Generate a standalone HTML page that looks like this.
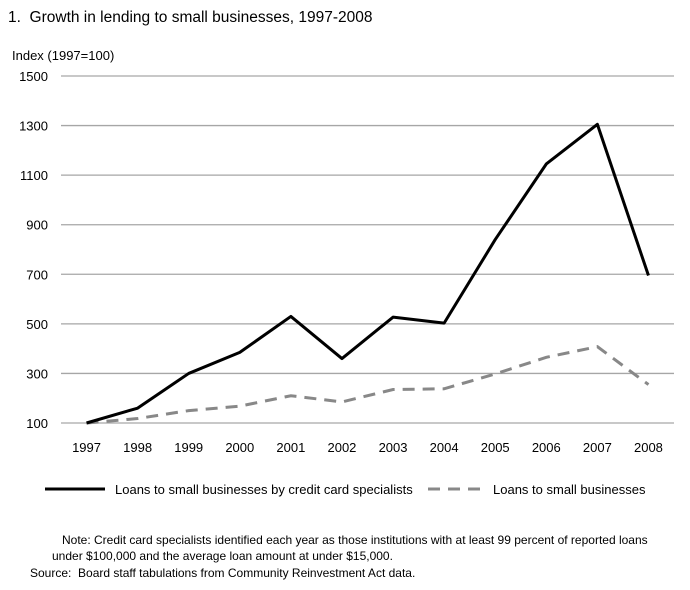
<!DOCTYPE html>
<html><head><meta charset="utf-8"><style>
body{margin:0;background:#fff;width:690px;height:585px;overflow:hidden;font-family:"Liberation Sans",sans-serif;}
</style></head><body>
<svg id="chart" width="690" height="585" font-family="Liberation Sans, sans-serif">
<text x="8" y="22" font-size="15.5" fill="#000">1.&#160;&#160;Growth in lending to small businesses, 1997-2008</text>
<text x="12" y="60" font-size="13" fill="#000">Index (1997=100)</text>
<g id="grid"></g><g id="xlabels"></g><g id="series"></g>
<g>
<line x1="45" y1="489" x2="105" y2="489" stroke="#000" stroke-width="3"/>
<text x="115" y="494" font-size="13">Loans to small businesses by credit card specialists</text>
<line x1="428" y1="489" x2="482" y2="489" stroke="#888" stroke-width="3" stroke-dasharray="12,8"/>
<text x="493" y="494" font-size="13">Loans to small businesses</text>
</g>
<g font-size="12">
<text x="62" y="544">Note: Credit card specialists identified each year as those institutions with at least 99 percent of  reported loans</text>
<text x="52" y="560">under $100,000 and the average loan amount at under $15,000.</text>
<text x="30" y="577">Source:&#160;&#160;Board staff tabulations from Community Reinvestment Act data.</text>
</g>
</svg>
<script>
const years=["1997","1998","1999","2000","2001","2002","2003","2004","2005","2006","2007","2008"];
const creditCard=[100,160,300,385,530,360,527,503,840,1145,1305,695];
const smallBiz=[100,118,150,168,210,185,235,238,298,365,408,255];
const yTicks=[100,300,500,700,900,1100,1300,1500];
const ns="http://www.w3.org/2000/svg";
const L=61,R=674,T=76,B=423;
const x=i=>L+(R-L)/years.length*(i+0.5);
const y=v=>B-(v-100)/1400*(B-T);
function mk(t,a,p){const e=document.createElementNS(ns,t);for(const k in a)e.setAttribute(k,a[k]);p.appendChild(e);return e;}
const g=document.getElementById('grid');
yTicks.forEach(v=>{
 const l=mk('line',{x1:L,x2:R,y1:y(v),y2:y(v),stroke:'#a6a6a6','stroke-width':1.3},g);
 
 
 const t=mk('text',{x:48,y:y(v)+5,'font-size':13,'text-anchor':'end'},g);t.textContent=v;
 
 
});
const xl=document.getElementById('xlabels');
years.forEach((yr,i)=>{const t=mk('text',{x:x(i),y:452,'font-size':13,'text-anchor':'middle'},xl);t.textContent=yr;
 
 });
const s=document.getElementById('series');
const p2=mk('polyline',{points:smallBiz.map((v,i)=>x(i)+','+y(v)).join(' '),fill:'none',stroke:'#888','stroke-width':3,'stroke-dasharray':'12,8'},s);


const p1=mk('polyline',{points:creditCard.map((v,i)=>x(i)+','+y(v)).join(' '),fill:'none',stroke:'#000','stroke-width':3,'stroke-linejoin':'round'},s);


</script>
</body></html>
